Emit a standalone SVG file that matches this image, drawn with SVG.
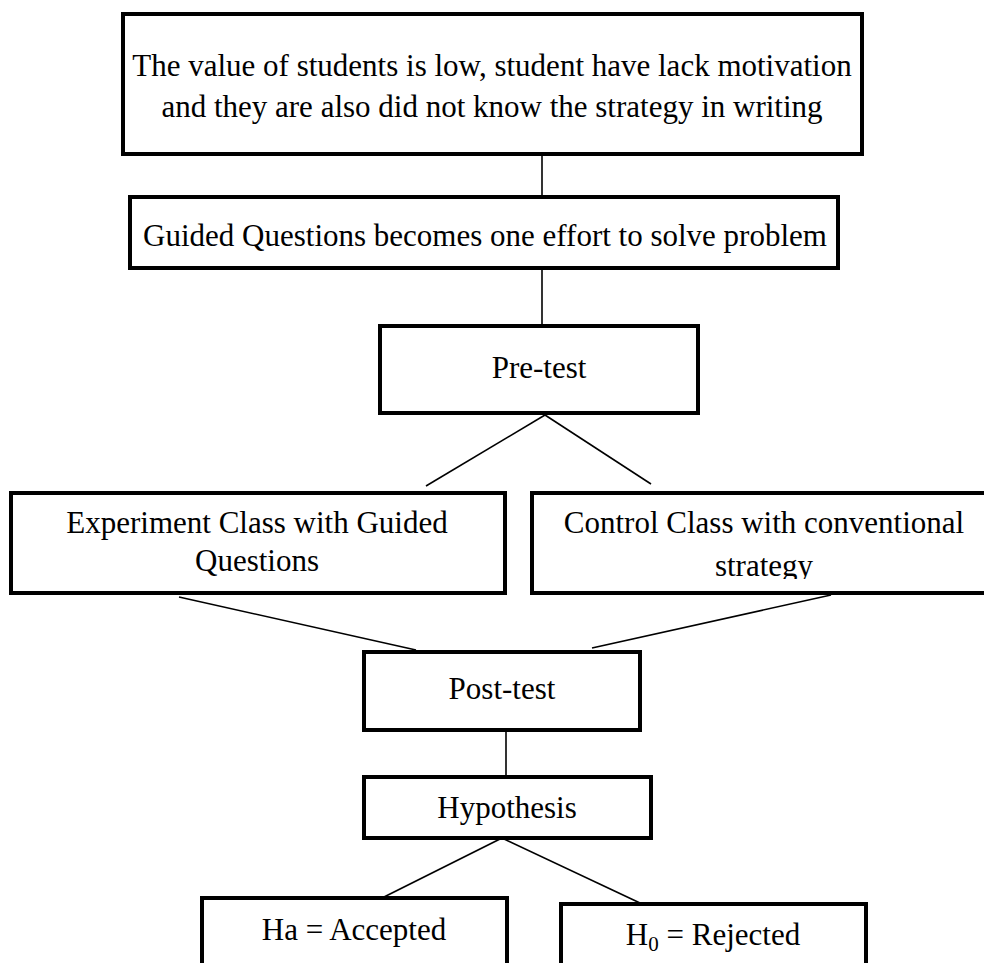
<svg xmlns="http://www.w3.org/2000/svg" width="984" height="963" viewBox="0 0 984 963">
<style>
.box{fill:#fff;stroke:#000;stroke-width:4}
.t{font-family:"Liberation Serif","Times New Roman",serif;font-size:31px;fill:#000;text-anchor:middle}
.c{stroke:#000;stroke-width:1.6;fill:none}
</style>
<defs>
<clipPath id="ctlclip"><rect x="533" y="493" width="460" height="86"/></clipPath>
</defs>
<rect width="984" height="963" fill="#fff"/>
<g id="connectors">
<line class="c" x1="542" y1="155" x2="542" y2="197"/>
<line class="c" x1="542" y1="268" x2="542" y2="326"/>
<line class="c" x1="545" y1="415" x2="426" y2="486"/>
<line class="c" x1="545" y1="415" x2="651" y2="484"/>
<line class="c" x1="179" y1="597" x2="416" y2="650"/>
<line class="c" x1="831" y1="595" x2="592" y2="648"/>
<line class="c" x1="506" y1="730" x2="506" y2="777"/>
<line class="c" x1="502" y1="838" x2="382" y2="898"/>
<line class="c" x1="502" y1="838" x2="640" y2="903"/>
</g>
<g id="problem">
<rect class="box" x="123" y="14" width="739" height="140"/>
<text class="t" x="492" y="76">The value of students is low, student have lack motivation</text>
<text class="t" x="492" y="117">and they are also did not know the strategy in writing</text>
</g>
<g id="guided">
<rect class="box" x="130" y="197" width="708" height="71"/>
<text class="t" x="485" y="246">Guided Questions becomes one effort to solve problem</text>
</g>
<g id="pretest">
<rect class="box" x="380" y="326" width="318" height="87"/>
<text class="t" x="539" y="378">Pre-test</text>
</g>
<g id="experiment">
<rect class="box" x="11" y="493" width="494" height="100"/>
<text class="t" x="257" y="533">Experiment Class with Guided</text>
<text class="t" x="257" y="571">Questions</text>
</g>
<g id="control">
<rect class="box" x="532" y="493" width="470" height="100"/>
<text class="t" x="764" y="533">Control Class with conventional</text>
<text class="t" x="764" y="576" clip-path="url(#ctlclip)">strategy</text>
</g>
<g id="posttest">
<rect class="box" x="364" y="652" width="276" height="78"/>
<text class="t" x="502" y="699">Post-test</text>
</g>
<g id="hypothesis">
<rect class="box" x="364" y="777" width="287" height="61"/>
<text class="t" x="507" y="818">Hypothesis</text>
</g>
<g id="accepted">
<rect class="box" x="202" y="898" width="305" height="80"/>
<text class="t" x="354" y="940">Ha = Accepted</text>
</g>
<g id="rejected">
<rect class="box" x="561" y="904" width="305" height="80"/>
<text class="t" x="713" y="945">H<tspan dy="6" font-size="21">0</tspan><tspan dy="-6"> = Rejected</tspan></text>
</g>
</svg>
